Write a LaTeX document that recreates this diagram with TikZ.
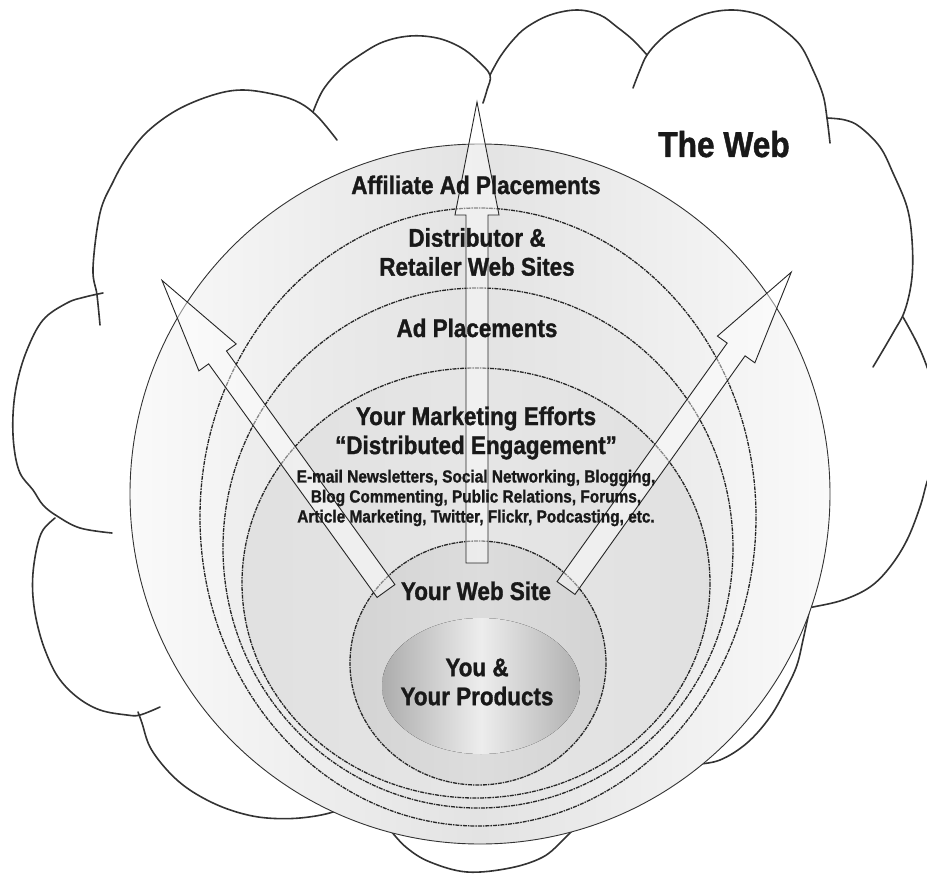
\documentclass[tikz,border=0pt]{standalone}
\usepackage{fontspec}
\setmainfont{Liberation Sans}[FakeStretch=0.88, BoldFeatures={FakeBold=1.2}]
\tikzset{
  cloudline/.style={draw=black!80, line width=1.6pt, line cap=round, line join=round},
  zone/.style args={#1/#2}{left color=#1, right color=#1, middle color=#2},
  outerring/.style={draw=black!80, line width=0.9pt},
  dashring/.style={draw=black!85, line width=1.3pt, dash pattern=on 4pt off 1pt on 1.5pt off 1pt},
  blockarrow/.style={draw=black!85, line width=0.9pt, fill=white, fill opacity=0.45, line join=miter},
  lbl/.style={font=\bfseries\fontsize{25.5}{29}\selectfont, text=black!90, align=center, inner sep=0pt},
  smalllbl/.style={font=\bfseries\fontsize{17.5}{20}\selectfont, text=black!90, align=center, inner sep=0pt},
  weblbl/.style={font=\bfseries\fontsize{36}{40}\selectfont, text=black!90, inner sep=0pt},
}
\begin{document}
\begin{tikzpicture}[x=1pt, y=-1pt]
  \useasboundingbox (0,0) rectangle (927,875);
  \clip (0,0) rectangle (927,875);

  % the web (cloud bumps)
  \draw[cloudline] plot[smooth, tension=0.6] coordinates {(100,325) (97,295) (93,268) (100,213) (113,182) (127,157) (147,132) (177,110) (213,95) (243,90) (277,95) (300,103) (318,117) (337,140)};
  \draw[cloudline] plot[smooth, tension=0.6] coordinates {(313,112) (323,90) (340,70) (360,55) (383,42) (410,36) (437,38) (460,47) (477,60) (490,75) (487,90) (483,103)};
  \draw[cloudline] plot[smooth, tension=0.6] coordinates {(490,75) (500,57) (513,40) (527,27) (550,15) (577,10) (600,15) (617,27) (633,40) (647,55)};
  \draw[cloudline] plot[smooth, tension=0.6] coordinates {(633,88) (640,70) (647,55) (660,40) (677,27) (705,14) (733,10) (760,15) (780,27) (800,45) (813,70) (823,95) (827,118) (830,143)};
  \draw[cloudline] plot[smooth, tension=0.6] coordinates {(827,118) (845,120) (860,127) (880,147) (893,173) (907,207) (912,240) (912,277) (905,310) (893,333) (873,367)};
  \draw[cloudline] plot[smooth, tension=0.6] coordinates {(903,317) (917,343) (927,367) (937,400) (940,430) (935,460) (927,482) (920,507) (907,540) (890,567) (870,587) (843,600) (813,607) (800,609)};
  \draw[cloudline] plot[smooth, tension=0.6] coordinates {(811,603) (808,617) (803,640) (797,665) (787,687) (770,717) (747,743) (720,760) (693,765) (680,768)};
  \draw[cloudline] plot[smooth, tension=0.6] coordinates {(378,815) (390,830) (407,848) (430,862) (467,872) (510,868) (543,857) (563,840) (573,830) (590,815)};
  \draw[cloudline] plot[smooth, tension=0.6] coordinates {(138,712) (142,723) (150,747) (167,770) (187,788) (213,803) (240,813) (267,818) (300,818) (333,812) (355,800)};
  \draw[cloudline] plot[smooth, tension=0.6] coordinates {(55,518) (43,530) (37,547) (33,573) (33,597) (37,623) (45,650) (58,677) (77,697) (100,710) (127,715) (140,715) (160,707)};
  \draw[cloudline] plot[smooth, tension=0.6] coordinates {(103,293) (85,297) (67,303) (43,320) (27,350) (17,383) (13,415) (14,447) (20,473) (33,490) (43,505) (57,516) (80,528) (112,533)};

  % rings
  \draw[outerring, zone=gray!4/gray!22] (480,494) circle[radius=350];
  \draw[dashring, zone=gray!8/gray!22] (478,517) ellipse[x radius=278, y radius=309];
  \draw[dashring, zone=gray!13/gray!22] (478,548) ellipse[x radius=255, y radius=260];
  \draw[dashring, zone=gray!24/gray!20] (476,583) ellipse[x radius=234, y radius=215];
  \draw[dashring, zone=gray!34/gray!27] (478,663) ellipse[x radius=128, y radius=122];
  \fill[left color=gray!65, right color=gray!62, middle color=gray!14] (481,686) ellipse[x radius=99, y radius=68];

  % arrows
  \draw[blockarrow, shift={(477,563)}, rotate=90] (0,-11) -- (348,-11) -- (348,-22) -- (461,0) -- (348,22) -- (348,11) -- (0,11) -- cycle;
  \draw[blockarrow, shift={(386,591)}, rotate=125.8] (0,-11) -- (288,-11) -- (288,-23) -- (383,0) -- (288,23) -- (288,11) -- (0,11) -- cycle;
  \draw[blockarrow, shift={(566,588)}, rotate=54.5] (0,-11) -- (293,-11) -- (293,-23) -- (388,0) -- (293,23) -- (293,11) -- (0,11) -- cycle;

  % labels
  \node[weblbl, anchor=base] (web) at (724,157) {The Web};
  \node[lbl, anchor=base] (affil) at (476,194) {Affiliate Ad Placements};
  \node[lbl] (distr) at (477,252) {Distributor \&\\Retailer Web Sites};
  \node[lbl, anchor=base] (adpl) at (477,337) {Ad Placements};
  \node[lbl] (mkt) at (476,433) {Your Marketing Efforts\\“Distributed Engagement”};
  \node[smalllbl] (chan) at (476,498) {E-mail Newsletters, Social Networking, Blogging,\\Blog Commenting, Public Relations, Forums,\\Article Marketing, Twitter, Flickr, Podcasting, etc.};
  \node[lbl, anchor=base] (site) at (476,600) {Your Web Site};
  \node[lbl] (you) at (477,682) {You \&\\Your Products};
\end{tikzpicture}
\end{document}
